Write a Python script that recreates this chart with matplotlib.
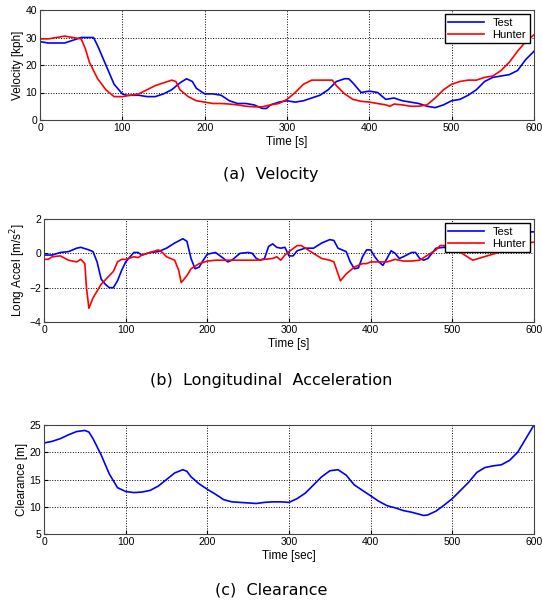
import matplotlib
matplotlib.use("Agg")
import matplotlib.pyplot as plt

plt.rcParams['font.family'] = ['Liberation Sans', 'DejaVu Sans']

# velocity [kph]
t_vel_test = [0, 10, 20, 30, 40, 50, 60, 65, 70, 80, 90, 100, 105, 110, 120, 130, 140, 150, 160, 170, 178, 185,
              190, 200, 210, 220, 230, 240, 250, 260, 270, 275, 280, 290, 300, 310, 320, 330, 340, 350, 360, 370,
              375, 380, 390, 400, 410, 420, 430, 440, 450, 460, 470, 480, 490, 500, 510, 520, 530, 540, 550, 560,
              570, 580, 590, 600]
vel_test = [28.5, 28, 28, 28, 29, 30, 30, 30, 27, 20, 13, 9.5, 9, 9, 9, 8.5, 8.5, 9.5, 11, 13.5, 15, 14,
            11.5, 9.5, 9.5, 9, 7, 6, 6, 5.5, 4.2, 4.2, 5.5, 6.5, 7, 6.5, 7, 8, 9, 11, 14, 15,
            15, 13.5, 10, 10.5, 10, 7.5, 8, 7, 6.5, 6, 5, 4.5, 5.5, 7, 7.5, 9, 11, 14, 15.5, 16,
            16.5, 18, 22, 25]
t_vel_hunter = [0, 10, 20, 30, 40, 50, 55, 60, 70, 80, 90, 100, 110, 120, 130, 140, 150, 160, 165, 170, 180,
                190, 200, 210, 220, 230, 240, 250, 260, 270, 280, 290, 300, 310, 320, 330, 340, 350, 355, 360,
                370, 380, 390, 400, 410, 420, 425, 430, 440, 450, 460, 470, 480, 490, 500, 510, 520, 530, 540,
                550, 560, 570, 580, 590, 600]
vel_hunter = [29.5, 29.5, 30, 30.5, 30, 29.5, 26, 21, 15, 11, 8.5, 8.5, 9, 9.5, 11, 12.5, 13.5, 14.5, 14, 11, 8.5,
              7, 6.5, 6, 6, 5.8, 5.5, 5, 4.8, 4.8, 5.5, 6, 7.5, 10, 13, 14.5, 14.5, 14.5, 14.5, 12.5,
              9.5, 7.5, 6.8, 6.5, 6, 5.5, 5, 5.8, 5.5, 5, 5, 5.5, 8, 11, 13, 14, 14.5, 14.5, 15.5,
              16, 18, 21, 25, 28.5, 31]

# longitudinal acceleration [m/s^2]
t_acc_test = [0, 10, 20, 30, 40, 45, 55, 60, 65, 70, 75, 80, 85, 90, 95, 100, 110, 115, 120, 130, 140, 150, 160,
              170, 175, 180, 185, 190, 195, 200, 210, 220, 225, 230, 240, 250, 255, 260, 265, 270, 275, 280,
              285, 290, 295, 300, 305, 310, 320, 330, 340, 350, 355, 360, 365, 370, 375, 380, 385, 390, 395,
              400, 405, 410, 415, 420, 425, 430, 435, 440, 450, 455, 460, 465, 470, 475, 480, 490, 500, 520,
              550, 580, 590, 600]
acc_test = [-0.1, -0.1, 0.05, 0.1, 0.3, 0.35, 0.2, 0.1, -0.5, -1.5, -1.8, -2.0, -2.0, -1.6, -1.0, -0.5, 0.05, 0.05,
            -0.1, 0.05, 0.1, 0.3, 0.6, 0.85, 0.7, -0.3, -0.9, -0.8, -0.4, -0.05, 0.05, -0.3, -0.5, -0.4, 0.0,
            0.05, 0.0, -0.3, -0.4, -0.3, 0.4, 0.55, 0.35, 0.3, 0.35, -0.15, -0.15, 0.15, 0.3, 0.3, 0.6, 0.8,
            0.75, 0.3, 0.2, 0.1, -0.5, -0.9, -0.85, -0.2, 0.2, 0.2, -0.2, -0.5, -0.7, -0.3, 0.15, 0.0, -0.3,
            -0.2, 0.05, 0.05, -0.3, -0.4, -0.3, 0.0, 0.3, 0.35, 0.3, 0.4, 0.6, 1.0, 1.25, 1.25]
t_acc_hunter = [0, 5, 10, 20, 30, 40, 45, 50, 52, 55, 60, 65, 70, 80, 85, 90, 95, 100, 110, 115, 120, 130, 140,
                145, 150, 155, 160, 165, 168, 170, 175, 180, 190, 200, 210, 220, 230, 240, 250, 260, 270, 280,
                285, 290, 295, 300, 310, 315, 320, 330, 340, 350, 355, 360, 363, 370, 380, 390, 395, 400, 410,
                420, 430, 440, 450, 460, 470, 480, 485, 490, 500, 525, 560, 590, 600]
acc_hunter = [-0.35, -0.35, -0.2, -0.15, -0.4, -0.5, -0.35, -0.6, -2.0, -3.2, -2.6, -2.2, -1.8, -1.3, -1.05, -0.5,
              -0.35, -0.35, -0.2, -0.25, -0.1, 0.05, 0.2, 0.05, -0.2, -0.3, -0.4, -1.0, -1.7, -1.6, -1.3, -0.9,
              -0.6, -0.45, -0.4, -0.4, -0.4, -0.4, -0.4, -0.4, -0.35, -0.3, -0.2, -0.4, -0.1, 0.1, 0.45, 0.45,
              0.3, 0.0, -0.3, -0.4, -0.5, -1.2, -1.6, -1.2, -0.8, -0.6, -0.6, -0.5, -0.5, -0.5, -0.35, -0.45,
              -0.45, -0.4, -0.1, 0.2, 0.45, 0.45, 0.35, -0.4, 0.1, 0.6, 0.65]

# clearance [m]
t_clr = [0, 10, 20, 30, 40, 50, 55, 60, 70, 80, 90, 100, 110, 120, 130, 140, 150, 160, 170, 175, 180, 190, 200,
         210, 220, 230, 240, 250, 260, 270, 280, 290, 300, 310, 320, 330, 340, 350, 360, 370, 380, 390, 400,
         410, 420, 430, 440, 450, 460, 465, 470, 480, 490, 500, 510, 520, 530, 540, 550, 560, 570, 580, 590, 600]
clearance = [21.7, 22, 22.5, 23.2, 23.8, 24, 23.7, 22.5, 19.5, 16, 13.5, 12.8, 12.6, 12.7, 13, 13.8, 15, 16.2,
             16.8, 16.5, 15.5, 14.2, 13.2, 12.3, 11.3, 10.9, 10.8, 10.7, 10.6, 10.8, 10.9, 10.9, 10.8, 11.5,
             12.5, 14, 15.5, 16.6, 16.8, 15.8, 14, 13, 12, 11, 10.2, 9.8, 9.3, 9, 8.6, 8.4, 8.5, 9.2, 10.3,
             11.5, 13, 14.5, 16.3, 17.2, 17.5, 17.7, 18.5, 20, 22.5, 25]

W, H = 542, 601
fig = plt.figure(figsize=(W / 100, H / 100), dpi=100)


def make_axes(left, top, right, bottom):
    return fig.add_axes([left / W, 1 - bottom / H, (right - left) / W, (bottom - top) / H])


def style(ax, xlabel, ylabel):
    ax.set_xlim(0, 600)
    ax.set_xticks(range(0, 601, 100))
    ax.grid(True, color='black', linestyle=':', linewidth=0.7)
    ax.tick_params(direction='in', labelsize=7.5, length=3, pad=2)
    ax.set_xlabel(xlabel, fontsize=8.5, labelpad=2)
    ax.set_ylabel(ylabel, fontsize=8.5, labelpad=1)
    for s in ax.spines.values():
        s.set_linewidth(0.8)
        s.set_color('#444444')


ax1 = make_axes(40, 10, 534, 120)
ax1.plot(t_vel_test, vel_test, color='blue', lw=1.2, label='Test')
ax1.plot(t_vel_hunter, vel_hunter, color='red', lw=1.2, label='Hunter')
ax1.set_ylim(0, 40)
ax1.set_yticks(range(0, 41, 10))
style(ax1, 'Time [s]', 'Velocity [kph]')
ax1.legend(loc='upper right', fontsize=8, fancybox=False, edgecolor='black', framealpha=1,
           borderaxespad=0.4, handlelength=3.2, borderpad=0.3, labelspacing=0.2)
fig.text(0.5, 1 - 175 / H, '(a)  Velocity', ha='center', va='center', fontsize=11.5,
         family=['DejaVu Sans'])

ax2 = make_axes(44, 219, 534, 322)
ax2.plot(t_acc_test, acc_test, color='blue', lw=1.2, label='Test')
ax2.plot(t_acc_hunter, acc_hunter, color='red', lw=1.2, label='Hunter')
ax2.set_ylim(-4, 2)
ax2.set_yticks(range(-4, 3, 2))
style(ax2, 'Time [s]', 'Long Accel [m/s$^2$]')
ax2.legend(loc='upper right', fontsize=8, fancybox=False, edgecolor='black', framealpha=1,
           borderaxespad=0.4, handlelength=3.2, borderpad=0.3, labelspacing=0.2)
fig.text(0.5, 1 - 381 / H, '(b)  Longitudinal  Acceleration', ha='center', va='center', fontsize=11.5,
         family=['DejaVu Sans'])

ax3 = make_axes(44, 425, 534, 534)
ax3.plot(t_clr, clearance, color='blue', lw=1.2)
ax3.set_ylim(5, 25)
ax3.set_yticks(range(5, 26, 5))
style(ax3, 'Time [sec]', 'Clearance [m]')
fig.text(0.5, 1 - 590 / H, '(c)  Clearance', ha='center', va='center', fontsize=11.5,
         family=['DejaVu Sans'])

fig.savefig('out.png', dpi=100)
